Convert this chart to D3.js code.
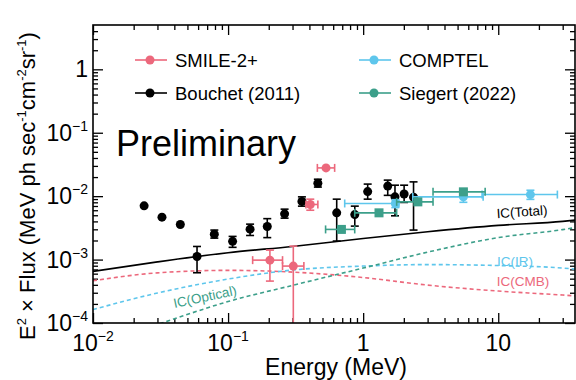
<!DOCTYPE html>
<html>
<head>
<meta charset="utf-8">
<script src="https://cdn.jsdelivr.net/npm/d3@7"></script>
<style>
  body { margin: 0; background: #fff; }
  svg text { font-family: "Liberation Sans", Arial, Helvetica, sans-serif; }
</style>
</head>
<body>
<div id="chart"></div>
<script>
// ---- data ----
var bouchetE  = [0.0239, 0.0324, 0.0443, 0.0589, 0.0791, 0.108, 0.1455, 0.195, 0.262, 0.352, 0.462, 0.637, 0.867, 1.08, 1.52, 1.72, 2.01, 2.36];
var bouchetF  = [7.03e-3, 4.67e-3, 3.58e-3, 1.12e-3, 2.52e-3, 1.94e-3, 3.02e-3, 3.33e-3, 5.26e-3, 8.26e-3, 1.60e-2, 5.46e-3, 5.12e-3, 1.18e-2, 1.44e-2, 9.75e-3, 1.08e-2, 9.64e-3];
var bouchetLo = [null, null, null, 6.2e-4, 2.18e-3, 1.56e-3, 2.40e-3, 2.22e-3, 4.5e-3, 6.96e-3, 1.39e-2, 1.96e-3, 3.37e-3, 8.97e-3, 1.03e-2, 4.9e-3, 7.96e-3, 2.92e-3];
var bouchetHi = [null, null, null, 1.61e-3, 2.92e-3, 2.32e-3, 3.62e-3, 4.42e-3, 6.24e-3, 9.75e-3, 1.85e-2, 8.97e-3, 6.96e-3, 1.55e-2, 1.79e-2, 1.49e-2, 1.49e-2, 1.68e-2];

var smileE   = [0.204, 0.304, 0.406, 0.531];
var smileElo = [0.152, 0.253, 0.377, 0.458];
var smileEhi = [0.253, 0.364, 0.462, 0.615];
var smileF   = [9.8e-4, 7.9e-4, 7.4e-3, 2.79e-2];
var smileFlo = [4.58e-4, 1e-6, 6.0e-3, null];
var smileFhi = [1.41e-3, 1.63e-3, 8.97e-3, null];

var comptelE   = [1.73, 5.52, 17.3];
var comptelElo = [0.73, 2.33, 7.59];
var comptelEhi = [1.84, 7.73, 27.4];
var comptelF   = [7.67e-3, 9.75e-3, 1.06e-2];
var comptelFlo = [6.6e-3, 8.0e-3, 8.9e-3];
var comptelFhi = [8.8e-3, 1.2e-2, 1.24e-2];

var siegertE   = [0.69, 1.31, 2.54, 5.52];
var siegertElo = [0.527, 0.866, 1.77, 3.29];
var siegertEhi = [0.866, 1.77, 3.29, 8.0];
var siegertF   = [2.99e-3, 5.46e-3, 8.13e-3, 1.17e-2];
var siegertFlo = [2.75e-3, 5.0e-3, 7.5e-3, 1.08e-2];
var siegertFhi = [3.25e-3, 5.9e-3, 8.8e-3, 1.27e-2];

var modelE  = [0.01, 0.03, 0.1, 0.3, 1, 3, 10, 30, 37];
var icTotal = [6.52e-4, 9.2e-4, 1.285e-3, 1.61e-3, 2.15e-3, 2.75e-3, 3.46e-3, 4.01e-3, 4.19e-3];
var icCMB   = [4.64e-4, 6.18e-4, 6.76e-4, 6.35e-4, 5.21e-4, 3.96e-4, 3.19e-4, 2.76e-4, 2.68e-4];
var icIR    = [1.63e-4, 2.97e-4, 4.93e-4, 6.84e-4, 7.9e-4, 8.34e-4, 8.05e-4, 7.35e-4, 7.08e-4];
var icOpt   = [4.5e-5, 9.5e-5, 2.18e-4, 3.92e-4, 7.35e-4, 1.31e-3, 2.22e-3, 2.97e-3, 3.19e-3];

var xMajor = [0.01, 0.1, 1, 10];
var xLabels = [["10", "\u22122"], ["10", "\u22121"], ["1", ""], ["10", ""]];
var yMajor = [1e-4, 1e-3, 1e-2, 1e-1, 1];
var yLabels = [["10", "\u22124"], ["10", "\u22123"], ["10", "\u22122"], ["10", "\u22121"], ["1", ""]];

var pink = "#ec687c", blue = "#5ec6ec", teal = "#3c9f8a";

// ---- layout ----
var width = 576, height = 380;
var pLeft = 93, pRight = 575, pTop = 25, pBottom = 323;

var svg = d3.select("#chart").append("svg")
    .attr("width", width)
    .attr("height", height);

var x = d3.scaleLog().domain([0.01, 37]).range([pLeft, pRight]);
var y = d3.scaleLog().domain([1e-4, 5]).range([pBottom, pTop]);

// minor ticks
var xMinor = [], yMinor = [];
[0.01, 0.1, 1, 10].forEach(function(d) {
    for (var k = 2; k <= 9; k++) if (d * k < 37) xMinor.push(d * k);
});
[1e-4, 1e-3, 1e-2, 1e-1, 1].forEach(function(d) {
    for (var k = 2; k <= 9; k++) if (d * k < 5) yMinor.push(d * k);
});

function ticks(axisFn, scale, vals, size, transform) {
    svg.append("g")
        .attr("transform", transform)
        .call(axisFn(scale).tickValues(vals).tickSize(size).tickFormat(""))
        .call(function(g) {
            g.select(".domain").remove();
            g.selectAll("line").attr("stroke", "#000").attr("stroke-width", 1.3);
        });
}
ticks(d3.axisBottom, x, xMajor, -10, "translate(0," + pBottom + ")");
ticks(d3.axisBottom, x, xMinor, -5, "translate(0," + pBottom + ")");
ticks(d3.axisTop, x, xMajor, -10, "translate(0," + pTop + ")");
ticks(d3.axisTop, x, xMinor, -5, "translate(0," + pTop + ")");
ticks(d3.axisLeft, y, yMajor, -10, "translate(" + pLeft + ",0)");
ticks(d3.axisLeft, y, yMinor, -5, "translate(" + pLeft + ",0)");
ticks(d3.axisRight, y, yMajor, -10, "translate(" + pRight + ",0)");
ticks(d3.axisRight, y, yMinor, -5, "translate(" + pRight + ",0)");

// tick labels
xMajor.forEach(function(d, i) {
    var t = svg.append("text")
        .attr("x", x(d))
        .attr("y", pBottom + 28)
        .attr("text-anchor", "middle")
        .attr("font-size", 23);
    t.append("tspan").text(xLabels[i][0]);
    if (xLabels[i][1]) t.append("tspan").attr("dy", -10).attr("font-size", 14).text(xLabels[i][1]);
});
yMajor.forEach(function(d, i) {
    var t = svg.append("text")
        .attr("x", 88)
        .attr("y", y(d) + 8)
        .attr("text-anchor", "end")
        .attr("font-size", 23);
    t.append("tspan").text(yLabels[i][0]);
    if (yLabels[i][1]) t.append("tspan").attr("dy", -10).attr("font-size", 14).text(yLabels[i][1]);
});

// axis titles
svg.append("text")
    .attr("x", 336)
    .attr("y", 375)
    .attr("text-anchor", "middle")
    .attr("font-size", 23)
    .text("Energy (MeV)");

var yt = svg.append("text")
    .attr("transform", "translate(35,186) rotate(-90)")
    .attr("text-anchor", "middle")
    .attr("font-size", 22);
yt.append("tspan").text("E");
yt.append("tspan").attr("dy", -9).attr("font-size", 13).text("2");
yt.append("tspan").attr("dy", 9).text(" \u00d7 Flux (MeV ph sec");
yt.append("tspan").attr("dy", -9).attr("font-size", 13).text("-1");
yt.append("tspan").attr("dy", 9).text("cm");
yt.append("tspan").attr("dy", -9).attr("font-size", 13).text("-2");
yt.append("tspan").attr("dy", 9).text("sr");
yt.append("tspan").attr("dy", -9).attr("font-size", 13).text("-1");
yt.append("tspan").attr("dy", 9).text(")");

// clip
svg.append("clipPath").attr("id", "plot")
    .append("rect").attr("x", pLeft).attr("y", pTop)
    .attr("width", pRight - pLeft).attr("height", pBottom - pTop);
var plot = svg.append("g").attr("clip-path", "url(#plot)");

// model curves
var line = d3.line()
    .x(function(d) { return x(d[0]); })
    .y(function(d) { return y(d[1]); })
    .curve(d3.curveMonotoneX);

function curve(vals, color, dashed) {
    plot.append("path")
        .datum(modelE.map(function(e, i) { return [e, vals[i]]; }))
        .attr("d", line)
        .attr("fill", "none")
        .attr("stroke", color)
        .attr("stroke-width", 1.6)
        .attr("stroke-dasharray", dashed ? "4,3" : null);
}
curve(icCMB, pink, true);
curve(icIR, blue, true);
curve(icOpt, teal, true);
curve(icTotal, "#000", false);

function curveLabel(text, cx, cy, color, angle) {
    svg.append("text")
        .attr("transform", "translate(" + cx + "," + cy + ") rotate(" + angle + ")")
        .attr("text-anchor", "middle")
        .attr("dominant-baseline", "central")
        .attr("font-size", 13.5)
        .attr("fill", color)
        .text(text);
}
curveLabel("IC(Total)", 522, 212, "#000", -4);
curveLabel("IC(IR)", 515, 261, blue, 0);
curveLabel("IC(CMB)", 523, 281, pink, 0);
curveLabel("IC(Optical)", 205, 297, teal, -12);

// data with error bars
var cap = 4;
function series(E, F, Elo, Ehi, Flo, Fhi, color, shape) {
    var g = plot.append("g").attr("stroke", color).attr("fill", color).attr("stroke-width", 1.6);
    E.forEach(function(e, i) {
        var cx = x(e), cy = y(F[i]);
        if (Flo && Flo[i] != null) {
            var y0 = y(Flo[i]), y1 = y(Fhi[i]);
            g.append("line").attr("x1", cx).attr("x2", cx).attr("y1", y0).attr("y2", y1);
            g.append("line").attr("x1", cx - cap).attr("x2", cx + cap).attr("y1", y0).attr("y2", y0);
            g.append("line").attr("x1", cx - cap).attr("x2", cx + cap).attr("y1", y1).attr("y2", y1);
        }
        if (Elo && Elo[i] != null) {
            var x0 = x(Elo[i]), x1 = x(Ehi[i]);
            g.append("line").attr("x1", x0).attr("x2", x1).attr("y1", cy).attr("y2", cy);
            g.append("line").attr("x1", x0).attr("x2", x0).attr("y1", cy - cap).attr("y2", cy + cap);
            g.append("line").attr("x1", x1).attr("x2", x1).attr("y1", cy - cap).attr("y2", cy + cap);
        }
        if (shape === "square") {
            g.append("rect").attr("x", cx - 4.5).attr("y", cy - 4.5)
                .attr("width", 9).attr("height", 9).attr("stroke", "none");
        } else {
            g.append("circle").attr("cx", cx).attr("cy", cy).attr("r", 4.5).attr("stroke", "none");
        }
    });
}
series(bouchetE, bouchetF, null, null, bouchetLo, bouchetHi, "#000", "circle");
series(comptelE, comptelF, comptelElo, comptelEhi, comptelFlo, comptelFhi, blue, "circle");
series(siegertE, siegertF, siegertElo, siegertEhi, siegertFlo, siegertFhi, teal, "square");
series(smileE, smileF, smileElo, smileEhi, smileFlo, smileFhi, pink, "circle");

// frame
svg.append("rect")
    .attr("x", pLeft).attr("y", pTop)
    .attr("width", pRight - pLeft).attr("height", pBottom - pTop)
    .attr("fill", "none").attr("stroke", "#000").attr("stroke-width", 1.6);

// text
svg.append("text")
    .attr("x", 116).attr("y", 156)
    .attr("font-size", 36)
    .text("Preliminary");

var legend = [
    {name: "SMILE-2+", color: pink, lx: 135, ly: 60},
    {name: "Bouchet (2011)", color: "#000", lx: 135, ly: 93},
    {name: "COMPTEL", color: blue, lx: 359, ly: 60},
    {name: "Siegert (2022)", color: teal, lx: 359, ly: 93}
];
legend.forEach(function(d) {
    svg.append("line")
        .attr("x1", d.lx).attr("x2", d.lx + 32)
        .attr("y1", d.ly).attr("y2", d.ly)
        .attr("stroke", d.color).attr("stroke-width", 1.6);
    svg.append("circle")
        .attr("cx", d.lx + 15).attr("cy", d.ly).attr("r", 4.5)
        .attr("fill", d.color);
    svg.append("text")
        .attr("x", d.lx + 40).attr("y", d.ly)
        .attr("dominant-baseline", "central")
        .attr("font-size", 18.5)
        .text(d.name);
});
</script>
</body>
</html>
